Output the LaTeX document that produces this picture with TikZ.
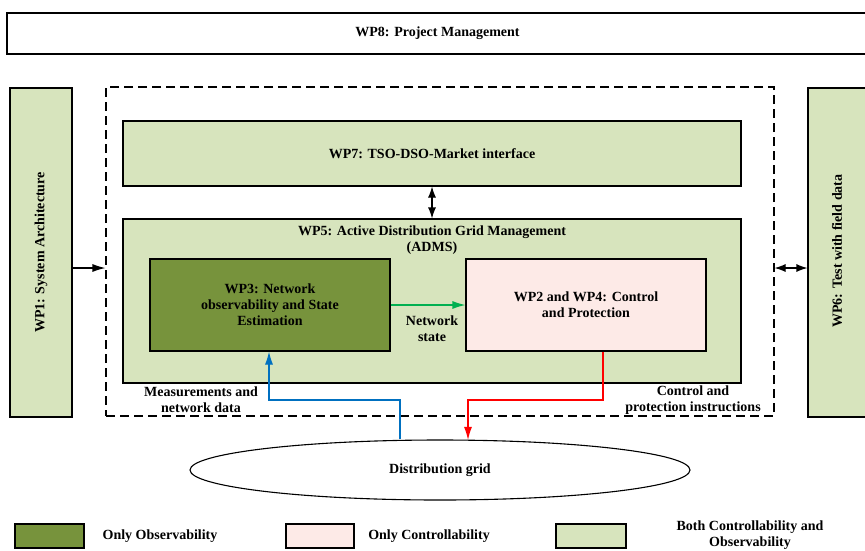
\documentclass[tikz,border=0pt]{standalone}
\usepackage{fontspec}
\setmainfont{Liberation Serif}
\usetikzlibrary{shapes.geometric,arrows.meta}
\definecolor{dkgreen}{HTML}{77933C}
\definecolor{ltgreen}{HTML}{D7E4BD}
\definecolor{pinkc}{HTML}{FDEAE7}
\definecolor{bluec}{HTML}{0070C0}
\definecolor{greenc}{HTML}{00B050}
\tikzset{
  box/.style={draw=black,line width=1.1pt,rectangle,inner sep=0pt,align=center,font=\fontsize{14}{16}\selectfont\bfseries},
  lbl/.style={align=center,font=\fontsize{14}{16}\selectfont\bfseries,inner sep=0pt},
  arr/.style={line width=1.1pt,-{Latex[length=13pt,width=8pt]}},
  darr/.style={line width=1.1pt,{Latex[length=11pt,width=8pt]}-{Latex[length=11pt,width=8pt]}},
}
\begin{document}
\begin{tikzpicture}[x=1pt,y=-1pt]
\useasboundingbox (0,0) rectangle (865,550);
\fill[white] (0,0) rectangle (865,550);
% WP8
\node[box,minimum width=861pt,minimum height=41pt] (wp8) at (437.5,33.5) {WP8: Project Management};
% WP1 and WP6
\node[box,fill=ltgreen,minimum width=62pt,minimum height=329pt] (wp1) at (41,252.5) {};
\node[lbl,rotate=90] (wp1t) at (wp1.center) {WP1: System Architecture};
\node[box,fill=ltgreen,minimum width=62pt,minimum height=329pt] (wp6) at (839,252.5) {};
\node[lbl,rotate=90] (wp6t) at (837,251) {WP6: Test with field data};
% dashed box
\node[draw=black,line width=1.1pt,dash pattern=on 9pt off 5pt,minimum width=668pt,minimum height=329pt,inner sep=0pt] (dash) at (440,251.5) {};
% WP7, WP5
\node[box,fill=ltgreen,minimum width=618pt,minimum height=65pt] (wp7) at (432,153.5) {WP7: TSO-DSO-Market interface};
\node[box,fill=ltgreen,minimum width=618pt,minimum height=164pt] (wp5) at (432,301) {};
\node[lbl] (wp5t) at (432,240) {WP5: Active Distribution Grid Management\\(ADMS)};
% WP3, WP2/4
\node[box,fill=dkgreen,minimum width=240pt,minimum height=92pt] (wp3) at (270,305) {WP3: Network\\observability and State\\Estimation};
\node[box,fill=pinkc,minimum width=240pt,minimum height=92pt] (wp24) at (586,305) {WP2 and WP4: Control\\and Protection};
% grid
\node[draw=black,line width=1.1pt,ellipse,minimum width=500pt,minimum height=60pt,inner sep=0pt,font=\fontsize{14}{16}\selectfont\bfseries] (grid) at (440,470) {Distribution grid};
% labels
\node[lbl] (ns) at (432,329) {Network\\state};
\node[lbl] (meas) at (201,400) {Measurements and\\network data};
\node[lbl] (ctrl) at (693,400) {Control and\\protection instructions};
% helper coordinates
\coordinate (ya) at (0,268);
\coordinate (yb) at (0,400);
\coordinate (xb) at (400,0);
\coordinate (xb2) at (269,0);
\coordinate (xr) at (603,0);
\coordinate (xr2) at (468,0);
% connectors
\draw[arr] (wp1.east |- ya) -- (dash.west |- ya);
\draw[darr] (dash.east |- ya) -- (wp6.west |- ya);
\draw[darr] (wp7.south) -- (wp5.north);
\draw[arr,greenc] (wp3.east) -- (wp24.west);
\draw[arr,bluec] (grid.north -| xb) -- (xb |- yb) -- (xb2 |- yb) -- (wp3.south -| xb2);
\draw[arr,red] (wp24.south -| xr) -- (xr |- yb) -- (xr2 |- yb) -- ([yshift=-0.5pt]grid.north -| xr2);
% legend
\node[box,fill=dkgreen,minimum width=69pt,minimum height=24pt] (l1) at (49.5,536) {};
\node[lbl] (l1t) at (160,536) {Only Observability};
\node[box,fill=pinkc,minimum width=68pt,minimum height=24pt] (l2) at (320,536) {};
\node[lbl] (l2t) at (429,536) {Only Controllability};
\node[box,fill=ltgreen,minimum width=70pt,minimum height=24pt] (l3) at (591,536) {};
\node[lbl] (l3t) at (750,535) {Both Controllability and\\Observability};
\end{tikzpicture}
\end{document}
